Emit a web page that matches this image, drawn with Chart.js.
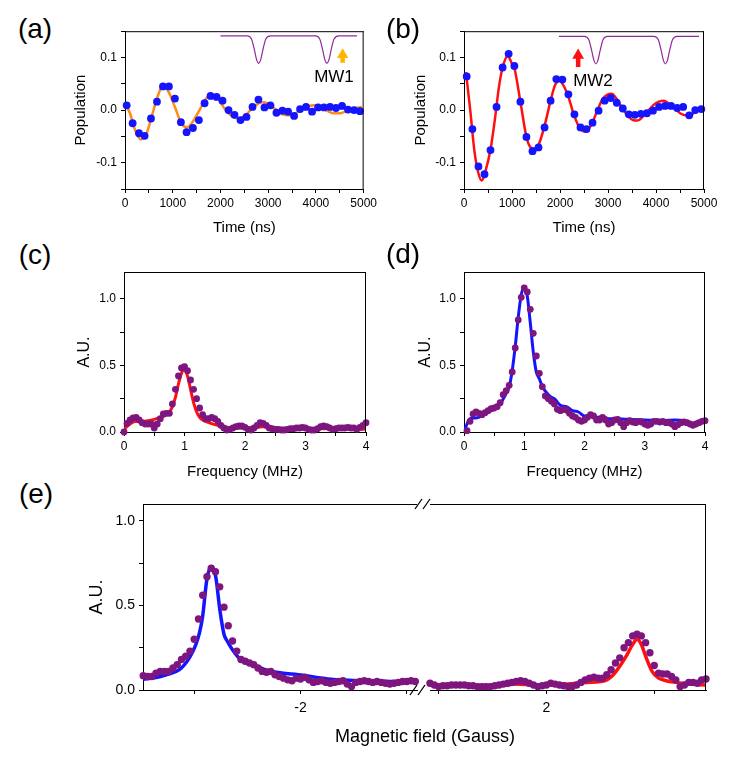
<!DOCTYPE html>
<html>
<head>
<meta charset="utf-8">
<script src="https://cdn.jsdelivr.net/npm/chart.js@4.4.1/dist/chart.umd.min.js"></script>
<style>
  body { margin: 0; background: #fff; width: 748px; height: 757px; position: relative; overflow: hidden;
         font-family: "Liberation Sans", Arial, sans-serif; }
  canvas { position: absolute; }
  .t { position: absolute; transform: translate(-50%, -50%); white-space: nowrap; color: #000; }
  .panel { font-size: 28px; }
</style>
</head>
<body>
<canvas id="ca" width="320" height="220" style="left:60px;top:20px"></canvas>
<canvas id="cb" width="340" height="220" style="left:400px;top:20px"></canvas>
<canvas id="cc" width="320" height="221" style="left:60px;top:260px"></canvas>
<canvas id="cd" width="340" height="221" style="left:400px;top:260px"></canvas>
<canvas id="ce1" width="361" height="260" style="left:60px;top:490px"></canvas>
<canvas id="ce2" width="345" height="260" style="left:400px;top:490px"></canvas>

<div class="t panel" style="left:35px;top:29px">(a)</div>
<div class="t panel" style="left:403px;top:29px">(b)</div>
<div class="t panel" style="left:35px;top:255px">(c)</div>
<div class="t panel" style="left:403px;top:254px">(d)</div>
<div class="t panel" style="left:36px;top:494px">(e)</div>
<div class="t" style="left:334px;top:77px;font-size:17px">MW1</div>
<div class="t" style="left:593px;top:81px;font-size:17px">MW2</div>
<div class="t" style="left:425px;top:736px;font-size:18px">Magnetic field (Gauss)</div>

<script>
// ---- (a) Ramsey signal, MW1 ----
const timeA = [35,160,293,411,544,670,795,920,1046,1171,1290,1423,1548,1667,1792,1918,2043,2169,2294,2420,
               2545,2671,2796,2922,3047,3173,3298,3417,3543,3668,3793,3919,4045,4170,4296,4421,4547,4672,4798,4923];
const popA = [0.009,-0.025,-0.044,-0.049,-0.016,0.016,0.045,0.045,0.022,-0.023,-0.042,-0.034,-0.019,0.013,0.027,0.025,0.018,0.000,-0.009,-0.019,
              -0.013,0.006,0.020,0.005,0.009,-0.005,-0.001,-0.003,-0.011,0.002,0.006,-0.003,0.005,0.005,0.006,0.004,0.008,0.001,0.000,-0.002];
const fitTimeA = [0,100,200,330,450,560,680,795,910,1050,1180,1300,1420,1560,1700,1830,1960,2110,2250,2385,2520,2650,2780,2910,
                  3040,3170,3300,3430,3570,3710,3850,3990,4120,4250,4380,4510,4640,4780,4960];
const fitA = [0.012,-0.005,-0.035,-0.056,-0.045,-0.012,0.025,0.047,0.035,0.005,-0.025,-0.033,-0.022,0.000,0.022,0.029,0.020,0.000,-0.012,-0.016,
              -0.010,0.002,0.012,0.015,0.010,0.000,-0.008,-0.010,-0.006,0.002,0.008,0.009,0.004,-0.002,-0.006,-0.006,-0.002,0.003,0.006];
const pulseTimeA = [2000,2560,2650,2710,2760,2800,2840,2890,2950,3050,3990,4080,4140,4190,4230,4270,4320,4380,4480,4860];
const pulseA = [0.141,0.141,0.135,0.115,0.095,0.089,0.095,0.115,0.135,0.141,0.141,0.135,0.115,0.095,0.089,0.095,0.115,0.135,0.141,0.141];
const arrowAX = [4560, 4560], arrowAY = [0.090, 0.103], arrowAHead = 0.105;

// ---- (b) Ramsey signal, MW2 ----
const timeB = [56,175,301,427,552,678,804,930,1049,1175,1301,1427,1552,1678,1804,1923,2049,2175,2301,2427,
               2552,2678,2804,2930,3056,3182,3308,3434,3559,3685,3811,3937,4063,4189,4315,4441,4566,4692,4818,4944];
const popB = [0.064,-0.036,-0.107,-0.122,-0.076,0.006,0.081,0.107,0.084,0.016,-0.051,-0.078,-0.071,-0.033,0.018,0.059,0.058,0.030,-0.008,-0.033,
              -0.036,-0.024,-0.001,0.018,0.023,0.014,0.003,-0.008,-0.009,-0.007,-0.006,-0.001,0.006,0.008,0.008,0.004,0.006,-0.010,0.000,0.002];
const fitTimeB = [40,130,220,300,370,450,552,640,730,804,909,1000,1049,1175,1301,1380,1455,1552,1678,1804,1900,1993,2100,2175,2301,2431,2531,
                  2640,2760,2880,2980,3077,3182,3308,3434,3520,3615,3720,3830,3950,4060,4161,4270,4400,4520,4620,4700,4800,4944];
const fitB = [0.072,0.000,-0.080,-0.120,-0.134,-0.115,-0.075,-0.020,0.045,0.081,0.103,0.088,0.080,0.016,-0.051,-0.070,-0.073,-0.066,-0.030,0.018,0.048,0.056,0.042,0.025,-0.012,-0.037,-0.041,
              -0.030,-0.005,0.020,0.029,0.031,0.021,0.002,-0.013,-0.019,-0.020,-0.013,-0.002,0.010,0.016,0.018,0.012,0.002,-0.007,-0.010,-0.010,-0.005,0.004];
const pulseTimeB = [1979,2508,2598,2658,2708,2748,2788,2838,2898,2988,3956,4046,4106,4156,4196,4236,4286,4346,4436,4895];
const pulseB = [0.140,0.140,0.134,0.114,0.094,0.088,0.094,0.114,0.134,0.140,0.140,0.134,0.114,0.094,0.088,0.094,0.114,0.134,0.140,0.140];
const arrowBX = [2378, 2378], arrowBY = [0.082, 0.100], arrowBHead = 0.104;

// ---- (c) spectrum of (a) ----
const freqC = [0,0.05,0.1,0.15,0.2,0.25,0.3,0.35,0.4,0.45,0.5,0.55,0.6,0.65,0.7,0.75,0.8,0.85,0.9,0.95,
               1,1.05,1.1,1.15,1.2,1.25,1.3,1.35,1.4,1.45,1.5,1.55,1.6,1.65,1.7,1.75,1.8,1.85,1.9,1.95,
               2,2.05,2.1,2.15,2.2,2.25,2.3,2.35,2.4,2.45,2.5,2.55,2.6,2.65,2.7,2.75,2.8,2.85,2.9,2.95,
               3,3.05,3.1,3.15,3.2,3.25,3.3,3.35,3.4,3.45,3.5,3.55,3.6,3.65,3.7,3.75,3.8,3.85,3.9,3.95,4];
const specC = [0.00,0.065,0.09,0.105,0.11,0.09,0.07,0.06,0.06,0.06,0.03,0.06,0.10,0.135,0.14,0.14,0.21,0.32,0.42,0.48,
               0.49,0.46,0.39,0.32,0.25,0.18,0.13,0.10,0.10,0.11,0.10,0.08,0.05,0.03,0.015,0.02,0.03,0.04,0.045,0.045,
               0.035,0.02,0.015,0.03,0.05,0.07,0.065,0.05,0.03,0.025,0.02,0.02,0.015,0.015,0.02,0.025,0.025,0.03,0.03,0.035,
               0.03,0.02,0.015,0.015,0.025,0.04,0.045,0.04,0.03,0.02,0.025,0.03,0.03,0.03,0.035,0.03,0.03,0.02,0.035,0.05,0.07];
const fitFreqC = [0,0.1,0.2,0.3,0.4,0.5,0.6,0.7,0.75,0.8,0.85,0.9,0.95,1,1.05,1.1,1.15,1.2,1.25,1.3,1.4,1.5,1.6,1.7,1.8,2,2.2,2.3,2.5,3,3.5,4];
const fitC = [0.02,0.06,0.08,0.08,0.085,0.095,0.11,0.13,0.15,0.19,0.26,0.36,0.44,0.47,0.42,0.32,0.22,0.15,0.11,0.09,0.07,0.055,0.045,0.035,0.03,0.03,0.035,0.04,0.03,0.025,0.025,0.02];

// ---- (d) spectrum of (b) ----
const freqD = [0.05,0.1,0.15,0.2,0.25,0.3,0.35,0.4,0.45,0.5,0.55,0.6,0.65,0.7,0.75,0.8,0.85,0.9,0.95,
               1,1.05,1.1,1.15,1.2,1.25,1.3,1.35,1.4,1.45,1.5,1.55,1.6,1.65,1.7,1.75,1.8,1.85,1.9,1.95,
               2,2.05,2.1,2.15,2.2,2.25,2.3,2.35,2.4,2.45,2.5,2.55,2.6,2.65,2.7,2.75,2.8,2.85,2.9,2.95,
               3,3.05,3.1,3.15,3.2,3.25,3.3,3.35,3.4,3.45,3.5,3.55,3.6,3.65,3.7,3.75,3.8,3.85,3.9,3.95,4];
const specD = [0.01,0.08,0.135,0.15,0.14,0.13,0.145,0.16,0.175,0.18,0.19,0.22,0.28,0.31,0.35,0.45,0.63,0.84,1.01,
               1.08,1.05,0.92,0.74,0.57,0.44,0.34,0.27,0.25,0.23,0.21,0.17,0.16,0.17,0.165,0.14,0.12,0.11,0.09,0.08,
               0.09,0.11,0.13,0.12,0.09,0.09,0.11,0.09,0.06,0.07,0.09,0.095,0.07,0.04,0.07,0.085,0.075,0.07,0.08,0.075,
               0.06,0.05,0.06,0.08,0.08,0.075,0.08,0.07,0.07,0.06,0.04,0.055,0.07,0.075,0.07,0.06,0.05,0.06,0.07,0.08,0.085];
const fitFreqD = [0,0.05,0.1,0.2,0.3,0.4,0.5,0.6,0.7,0.75,0.8,0.85,0.9,0.95,1,1.05,1.1,1.15,1.2,1.25,1.3,1.4,1.45,1.5,1.6,1.7,1.8,1.9,2,2.1,2.2,2.3,2.4,2.5,2.7,3,3.3,3.5,3.7,3.8,4];
const fitD = [0.0,0.06,0.1,0.105,0.12,0.15,0.17,0.21,0.29,0.34,0.46,0.64,0.86,1.03,1.09,1.02,0.82,0.6,0.45,0.40,0.34,0.28,0.26,0.25,0.2,0.19,0.16,0.15,0.12,0.125,0.11,0.115,0.1,0.1,0.095,0.09,0.085,0.09,0.08,0.065,0.08];

// ---- (e) field scan, left and right of the break ----
const fieldL = [-2.74,-2.72,-2.70,-2.68,-2.66,-2.64,-2.62,-2.60,-2.58,-2.56,-2.54,-2.52,-2.50,-2.48,-2.46,-2.44,-2.42,-2.40,-2.38,-2.36,
                -2.34,-2.32,-2.30,-2.28,-2.26,-2.24,-2.22,-2.20,-2.18,-2.16,-2.14,-2.12,-2.10,-2.08,-2.06,-2.04,-2.02,-2.00,-1.98,-1.96,
                -1.94,-1.92,-1.90,-1.88,-1.86,-1.84,-1.82,-1.80,-1.78,-1.76,-1.74,-1.72,-1.70,-1.68,-1.66,-1.64,-1.62,-1.60,-1.58,-1.56,
                -1.54,-1.52,-1.50,-1.48,-1.46];
const specL = [0.085,0.08,0.08,0.10,0.11,0.11,0.11,0.13,0.15,0.18,0.20,0.23,0.30,0.42,0.56,0.67,0.72,0.70,0.61,0.49,
               0.38,0.29,0.23,0.18,0.17,0.16,0.15,0.13,0.11,0.105,0.11,0.09,0.08,0.07,0.06,0.055,0.07,0.065,0.075,0.06,
               0.045,0.05,0.055,0.045,0.04,0.045,0.05,0.055,0.035,0.02,0.045,0.05,0.055,0.05,0.045,0.05,0.045,0.04,0.035,0.04,
               0.045,0.05,0.05,0.055,0.05];
const fitFieldL = [-2.741,-2.679,-2.632,-2.570,-2.523,-2.492,-2.477,-2.461,-2.441,-2.421,-2.399,-2.379,-2.360,-2.345,-2.321,-2.290,-2.244,-2.166,-2.089,-2.011,-1.856,-1.700,-1.545,-1.452];
const fitL = [0.063,0.073,0.09,0.12,0.19,0.27,0.33,0.43,0.65,0.73,0.67,0.47,0.33,0.29,0.24,0.19,0.16,0.12,0.10,0.09,0.063,0.054,0.05,0.05];

const fieldR = [1.46,1.48,1.50,1.52,1.54,1.56,1.58,1.60,1.62,1.64,1.66,1.68,1.70,1.72,1.74,1.76,1.78,1.80,1.82,1.84,
                1.86,1.88,1.90,1.92,1.94,1.96,1.98,2.00,2.02,2.04,2.06,2.08,2.10,2.12,2.14,2.16,2.18,2.20,2.22,2.24,
                2.26,2.28,2.30,2.32,2.34,2.36,2.38,2.40,2.42,2.44,2.46,2.48,2.50,2.52,2.54,2.56,2.58,2.60,2.62,2.64,
                2.66,2.68,2.70,2.72,2.74];
const specR = [0.04,0.03,0.02,0.025,0.025,0.03,0.03,0.03,0.03,0.025,0.025,0.02,0.02,0.02,0.02,0.025,0.03,0.035,0.04,0.045,
               0.05,0.055,0.05,0.04,0.03,0.02,0.025,0.03,0.04,0.035,0.03,0.025,0.02,0.02,0.03,0.045,0.06,0.07,0.075,0.07,
               0.07,0.09,0.12,0.16,0.19,0.25,0.28,0.32,0.33,0.32,0.28,0.22,0.145,0.10,0.095,0.095,0.08,0.06,0.02,0.03,
               0.045,0.045,0.04,0.06,0.065];
const fitFieldR = [1.46,1.63,1.78,1.86,1.94,2.09,2.185,2.25,2.28,2.31,2.34,2.37,2.40,2.42,2.44,2.46,2.49,2.52,2.555,2.60,2.66,2.74];
const fitR = [0.03,0.028,0.028,0.035,0.03,0.035,0.045,0.05,0.06,0.09,0.14,0.20,0.27,0.30,0.27,0.20,0.11,0.07,0.055,0.045,0.035,0.03];

const BLUE = "#1414ff", ORANGE = "#ff8a14", RED = "#ff1010", PURPLE = "#7f157f", PULSE = "#93289a", GOLD = "#ffb400";

const xy = (xs, ys) => xs.map((x, i) => ({ x, y: ys[i] }));

// box sides + axis-break marks
const frame = {
  id: "frame",
  afterDraw(chart, args, o) {
    const { ctx, chartArea: a } = chart;
    ctx.save();
    ctx.strokeStyle = "#000";
    ctx.lineWidth = 1;
    ctx.beginPath();
    if (o.top) { ctx.moveTo(a.left, a.top + 0.5); ctx.lineTo(a.right, a.top + 0.5); }
    if (o.right) { ctx.moveTo(a.right - 0.5, a.top); ctx.lineTo(a.right - 0.5, a.bottom + 0.5); }
    ctx.stroke();
    if (o.breaks) {
      ctx.lineWidth = 1.3;
      ctx.beginPath();
      [[-15, a.top], [-7, a.top], [-20, a.bottom], [-12, a.bottom]].forEach(([dx, y]) => {
        ctx.moveTo(a.left + dx, y + 5);
        ctx.lineTo(a.left + dx + 7, y - 5);
      });
      ctx.stroke();
    }
    ctx.restore();
  }
};

function axis(min, max, step, major, fmt, o) {
  const isMajor = v => Math.abs(v / major - Math.round(v / major)) < 1e-6;
  return {
    type: "linear", min, max,
    display: o.display !== false,
    afterBuildTicks: s => {
      const t = [];
      for (let i = Math.ceil(min / step - 1e-9); i * step <= max + 1e-9; i++) t.push({ value: +(i * step).toFixed(6) });
      s.ticks = t;
    },
    afterFit: s => { if (o.width) s.width = o.width; if (o.height) s.height = o.height; },
    ticks: {
      autoSkip: false, maxRotation: 0, color: "#000", padding: o.pad || 3,
      font: { size: o.tickSize || 12, family: "'Liberation Sans', Arial, sans-serif" },
      callback: v => isMajor(v) ? fmt(Math.abs(v) < 1e-9 ? 0 : v) : ""
    },
    grid: { drawOnChartArea: false, tickLength: 4, color: "#000", tickWidth: 1 },
    border: { display: true, color: "#000", width: 1 },
    title: o.title ? {
      display: true, text: o.title, color: "#000",
      font: { size: o.titleSize || 15, family: "'Liberation Sans', Arial, sans-serif" },
      padding: o.titlePad || 0
    } : { display: false }
  };
}

const dots = (d, color, r) => ({ data: d, showLine: false, pointRadius: r, pointBackgroundColor: color, pointBorderWidth: 0, borderWidth: 0, order: 0, clip: false });
const curve = (d, color, w) => ({ data: d, showLine: true, borderColor: color, borderWidth: w, pointRadius: 0, cubicInterpolationMode: "monotone", order: 1 });
const head = (x, y, color, r) => ({ data: [{ x, y }], showLine: false, pointStyle: "triangle", pointRadius: r, pointBackgroundColor: color, pointBorderWidth: 0, borderWidth: 0, order: 0 });

function make(id, datasets, padding, x, y, frameOpts) {
  return new Chart(document.getElementById(id), {
    type: "scatter",
    data: { datasets },
    options: {
      responsive: false, animation: false, events: [],
      layout: { padding },
      scales: { x, y },
      plugins: { legend: { display: false }, tooltip: { enabled: false }, frame: frameOpts }
    },
    plugins: [frame]
  });
}

const f1 = v => v.toFixed(1);
const f0 = v => String(v);

// (a)
make("ca", [
  dots(xy(timeA, popA), BLUE, 3.9),
  curve(xy(fitTimeA, fitA), ORANGE, 2.5),
  Object.assign(curve(xy(pulseTimeA, pulseA), PULSE, 1.2), { order: 2 }),
  Object.assign(curve(xy(arrowAX, arrowAY), GOLD, 4.5), { cubicInterpolationMode: "default", borderCapStyle: "butt" }),
  head(arrowAX[0], arrowAHead, GOLD, 6.5)
], { left: 10, top: 9, right: 14, bottom: 0 },
  axis(0, 5000, 500, 1000, f0, { height: 51, title: "Time (ns)", titlePad: { top: 0, bottom: 3 }, pad: 3 }),
  axis(-0.15, 0.15, 0.05, 0.1, f1, { width: 55, title: "Population", titlePad: { top: 2, bottom: 0 }, pad: 4 }),
  { top: true, right: true });

// (b)
make("cb", [
  dots(xy(timeB, popB), BLUE, 3.9),
  curve(xy(fitTimeB, fitB), RED, 2.5),
  Object.assign(curve(xy(pulseTimeB, pulseB), PULSE, 1.2), { order: 2 }),
  Object.assign(curve(xy(arrowBX, arrowBY), RED, 4.5), { cubicInterpolationMode: "default", borderCapStyle: "butt" }),
  head(arrowBX[0], arrowBHead, RED, 6.8)
], { left: 10, top: 9, right: 36, bottom: 0 },
  axis(0, 5000, 500, 1000, f0, { height: 51, title: "Time (ns)", titlePad: { top: 0, bottom: 3 }, pad: 3 }),
  axis(-0.15, 0.15, 0.05, 0.1, f1, { width: 54, title: "Population", titlePad: { top: 2, bottom: 0 }, pad: 4 }),
  { top: true, right: true });

// (c)
make("cc", [
  dots(xy(freqC, specC), PURPLE, 3.4),
  curve(xy(fitFreqC, fitC), RED, 3)
], { left: 10, top: 12, right: 14, bottom: 0 },
  axis(0, 4, 0.5, 1, f0, { height: 49, title: "Frequency (MHz)", titlePad: { top: 0, bottom: 0 }, pad: 3 }),
  axis(0, 1.2, 0.25, 0.5, f1, { width: 54, title: "A.U.", titleSize: 16, titlePad: { top: 5.4, bottom: 0 }, pad: 4 }),
  { top: true, right: true });

// (d)
make("cd", [
  dots(xy(freqD, specD), PURPLE, 3.4),
  curve(xy(fitFreqD, fitD), BLUE, 3)
], { left: 10, top: 12, right: 35, bottom: 0 },
  axis(0, 4, 0.5, 1, f0, { height: 49, title: "Frequency (MHz)", titlePad: { top: 0, bottom: 0 }, pad: 3 }),
  axis(0, 1.2, 0.25, 0.5, f1, { width: 54, title: "A.U.", titleSize: 16, titlePad: { top: 6.4, bottom: 0 }, pad: 4 }),
  { top: true, right: true });

// (e) left of the break
make("ce1", [
  dots(xy(fieldL, specL), PURPLE, 3.7),
  curve(xy(fitFieldL, fitL), BLUE, 3.5)
], { left: 10, top: 14, right: 0, bottom: 0 },
  axis(-2.741, -1.452, 0.5, 1, f0, { height: 60, tickSize: 14, pad: 6 }),
  axis(0, 1.1, 0.25, 0.5, f1, { width: 73, tickSize: 14, title: "A.U.", titleSize: 18, titlePad: { top: 16, bottom: 0 }, pad: 4 }),
  { top: true });

// (e) right of the break
make("ce2", [
  dots(xy(fieldR, specR), PURPLE, 3.7),
  curve(xy(fitFieldR, fitR), RED, 3.5)
], { left: 30, top: 14, right: 39, bottom: 0 },
  axis(1.46, 2.74, 0.5, 1, f0, { height: 60, tickSize: 14, pad: 6 }),
  axis(0, 1.1, 0.25, 0.5, f1, { display: false }),
  { top: true, right: true, breaks: true });
</script>
</body>
</html>
